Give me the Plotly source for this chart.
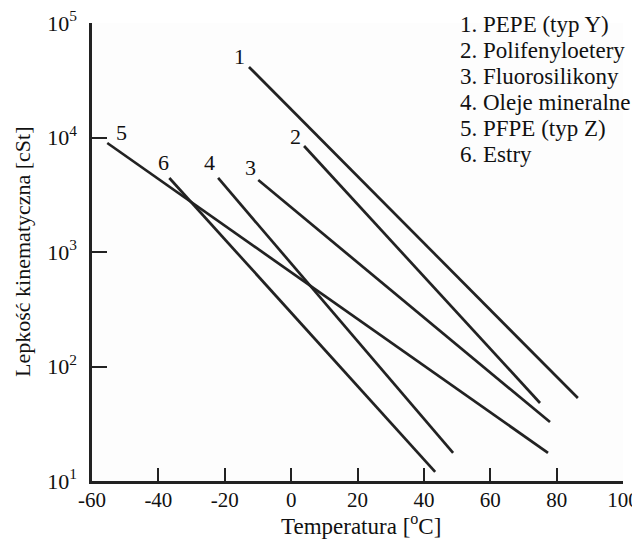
import math
import plotly.graph_objects as go

labels = ["1", "2", "3", "4", "5", "6"]
names = ["PEPE (typ Y)", "Polifenyloetery", "Fluorosilikony", "Oleje mineralne", "PFPE (typ Z)", "Estry"]
t_start = [-12.7, 3.9, -9.9, -22.0, -55.4, -36.7]
t_end = [86.4, 75.0, 78.0, 48.8, 77.4, 43.4]
v_start = [41300, 8430, 4250, 4430, 8950, 4430]
v_end = [53, 48, 32.7, 17.6, 17.6, 12]
x_ticks = [-60, -40, -20, 0, 20, 40, 60, 80, 100]
x_ticktext = ["-60", "-40", "-20", "0", "20", "40", "60", "80", "100"]
y_ticks = [10, 100, 1000, 10000, 100000]
y_ticktext = ["10<sup>1</sup>", "10<sup>2</sup>", "10<sup>3</sup>", "10<sup>4</sup>", "10<sup>5</sup>"]
label_shift = [(-9, 10), (-9, 9), (-8, 13), (-9, 15), (14, 11), (-6, 15)]

FONT = "Liberation Serif"
LC = "#222222"
TC = "#111111"

fig = go.Figure()
for i in range(len(labels)):
    fig.add_trace(go.Scatter(
        x=[t_start[i], t_end[i]], y=[v_start[i], v_end[i]],
        mode="lines", line=dict(color=LC, width=2.7), showlegend=False,
        hoverinfo="skip"))
    dx, dy = label_shift[i]
    fig.add_annotation(x=t_start[i], y=math.log10(v_start[i]), xref="x", yref="y",
                       text=labels[i], showarrow=False, xshift=dx, yshift=dy,
                       font=dict(family=FONT, size=22, color=TC))

for i in range(len(labels)):
    fig.add_annotation(x=0.689, y=0.996 - i * 26.0 / 458, xref="paper", yref="paper",
                       xanchor="left", yanchor="middle", showarrow=False,
                       text=f"{labels[i]}. {names[i]}",
                       font=dict(family=FONT, size=23, color=TC))

fig.add_annotation(x=0.5075, y=-0.096, xref="paper", yref="paper", showarrow=False,
                   xanchor="center", yanchor="middle",
                   text="Temperatura [<sup>o</sup>C]",
                   font=dict(family=FONT, size=23, color=TC))
fig.add_annotation(x=-0.132, y=0.5, xref="paper", yref="paper", showarrow=False,
                   xanchor="center", yanchor="middle", textangle=-90,
                   text="Lepkość kinematyczna [cSt]",
                   font=dict(family=FONT, size=22, color=TC))

fig.update_xaxes(range=[-60, 100], tickvals=x_ticks, ticktext=x_ticktext,
                 ticks="inside", ticklen=13, automargin=False, ticklabeloverflow="allow",
                 tickwidth=2, tickcolor=LC, showline=True, linecolor=LC, linewidth=2.5,
                 showgrid=False, zeroline=False, ticklabelstandoff=-2,
                 tickfont=dict(family=FONT, size=21, color=TC))
fig.update_yaxes(type="log", range=[1, 5], tickvals=y_ticks, ticktext=y_ticktext,
                 ticks="inside", ticklen=15, tickwidth=2, tickcolor=LC, automargin=False,
                 ticklabeloverflow="allow",
                 showline=True, linecolor=LC, linewidth=2.5, showgrid=False,
                 zeroline=False, ticklabelstandoff=8,
                 tickfont=dict(family=FONT, size=22, color=TC))
# page body has an 8px margin, so the figure is sized to fill the 640x545 window
fig.update_layout(width=632, height=537, margin=dict(l=84, r=17, t=15, b=64),
                  plot_bgcolor="#fdfdfd", paper_bgcolor="white", showlegend=False)
fig.write_html("out.html")
